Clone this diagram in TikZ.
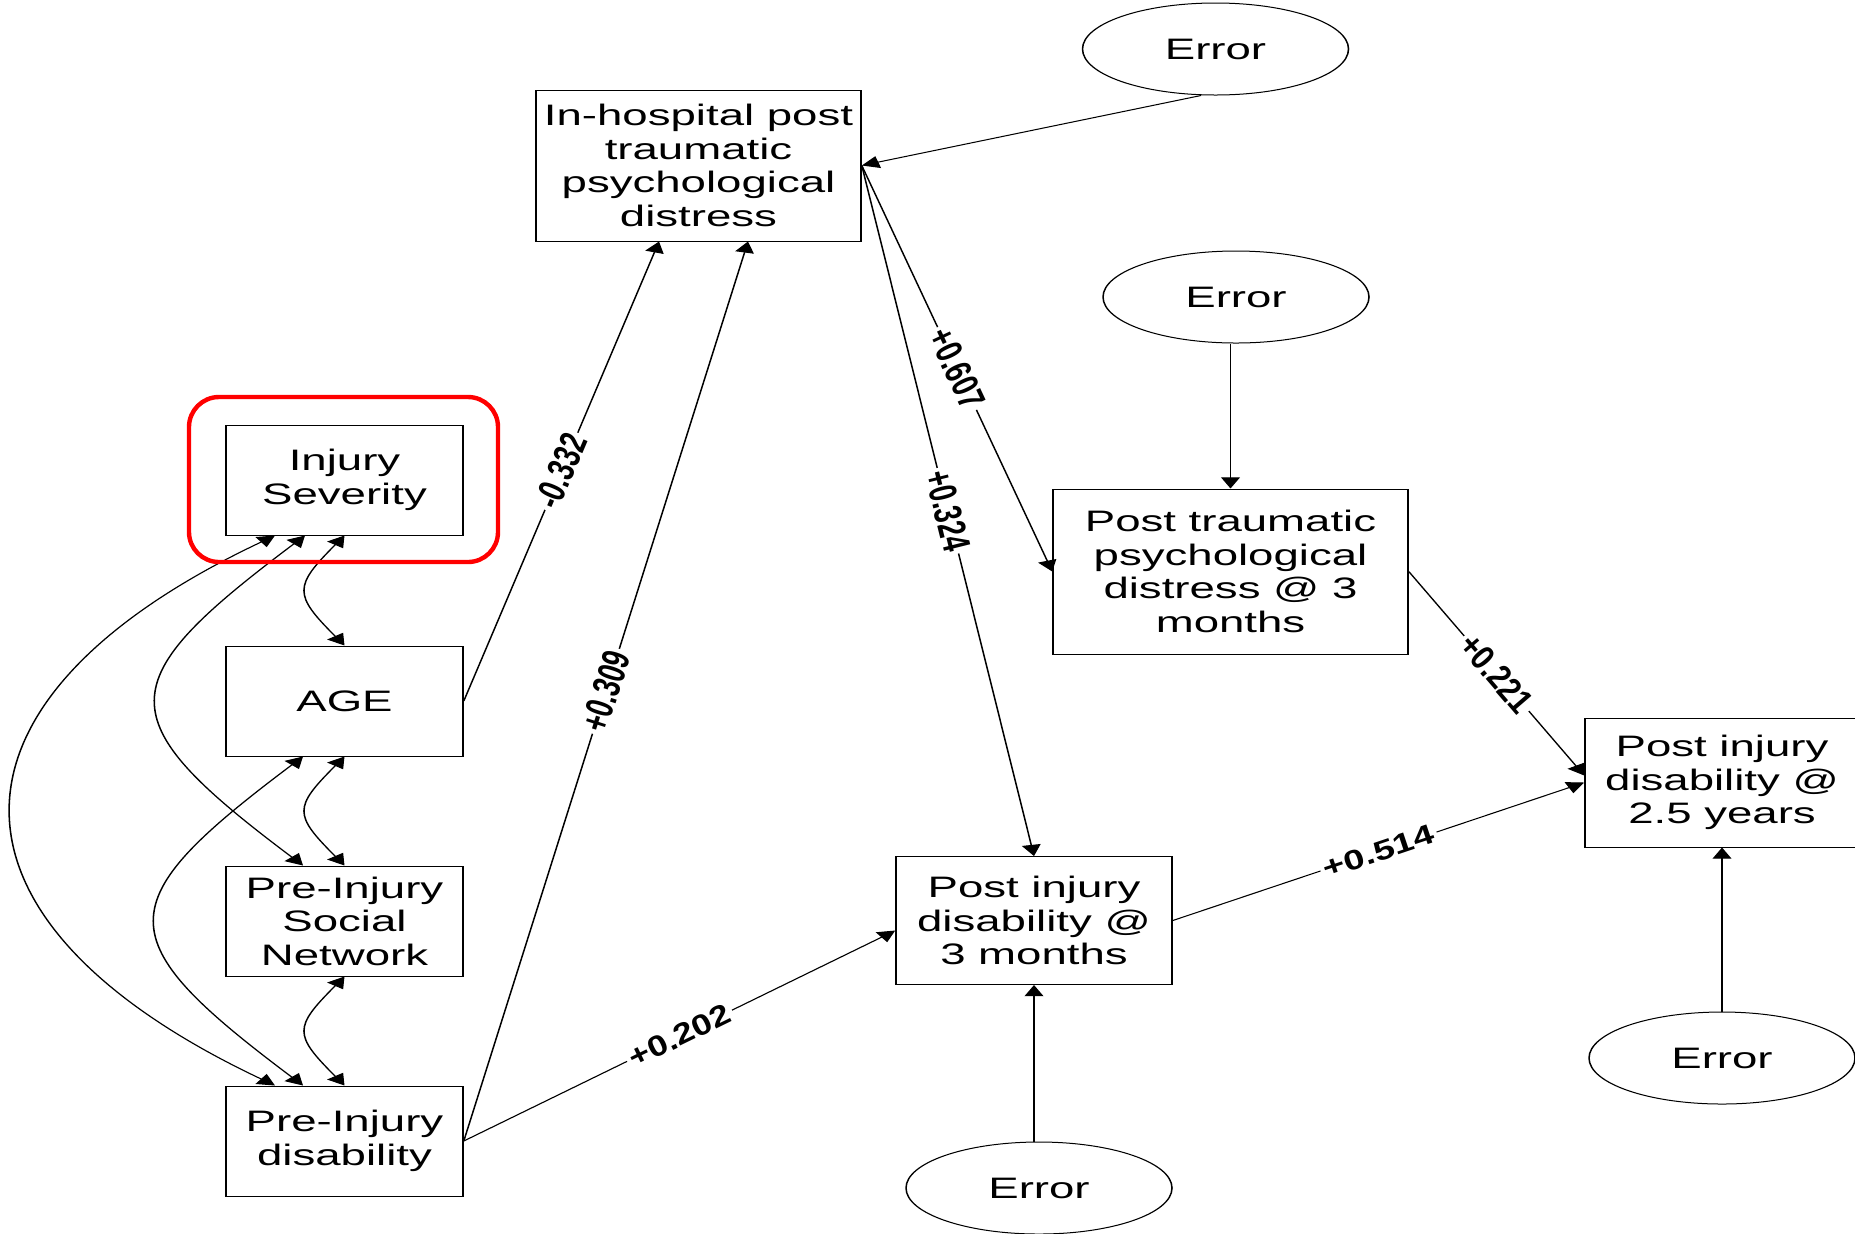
\documentclass[tikz,border=0pt]{standalone}
\usepackage{fontspec}
\usepackage{graphicx}
\setmainfont{Liberation Sans}
\usetikzlibrary{arrows.meta,shapes.geometric}
\newdimen\elax \newdimen\elay \newdimen\elbx \newdimen\elby
\newcommand\edgelab[4]{%
 \pgfextractx{\elax}{\pgfpointanchor{#2}{center}}\pgfextracty{\elay}{\pgfpointanchor{#2}{center}}%
 \pgfextractx{\elbx}{\pgfpointanchor{#3}{center}}\pgfextracty{\elby}{\pgfpointanchor{#3}{center}}%
 \pgfmathsetmacro\elang{atan2(\elby-\elay,1.54*(\elbx-\elax))}%
 \pgfmathsetmacro\elf{veclen(1.54*(\elbx-\elax),\elby-\elay)/veclen(\elbx-\elax,\elby-\elay)}%
 \pgfmathsetmacro\elg{1.54/\elf}%
 \pgfmathsetmacro\elmx{0.77*(\elax+\elbx)}%
 \pgfmathsetmacro\elmy{0.5*(\elay+\elby)}%
 \node[lab, rotate=\elang] (#1) at (\elmx pt,\elmy pt) {\scalebox{\elf}[\elg]{#4}};}
\tikzset{
 box/.style={draw, line width=0.5pt, rectangle, align=center, inner sep=0pt, font=\fontsize{14.8}{16.7}\selectfont},
 err/.style={draw, line width=0.5pt, ellipse, minimum width=86.36pt, minimum height=46pt, inner sep=0pt, font=\fontsize{14.8}{16.7}\selectfont},
 conn/.style={line width=0.5pt, -{Triangle[length=5.6pt,width=6.1pt]}},
 cov/.style={line width=0.5pt, {Triangle[length=5.6pt,width=6.1pt]}-{Triangle[length=5.6pt,width=6.1pt]}},
 lab/.style={fill=white, inner sep=1.6pt, font=\bfseries\fontsize{13}{13}\selectfont},
 hl/.style={draw=red, line width=2.2pt, rounded corners=15pt, minimum width=154.5pt, minimum height=82.5pt, inner sep=0pt}
}
\begin{document}
\begin{tikzpicture}[x=0.5pt,y=-0.5pt]
\fill[white] (0,0) rectangle (1855,1233);
\useasboundingbox (0,0) rectangle (1855,1233);
\begin{scope}[transform canvas={xscale=1.54}, x=0.324675pt, y=-0.5pt]
 \node[box, minimum width=76.95pt, minimum height=55pt] (inj) at (344.5,480) {Injury\\Severity};
 \node[box, minimum width=76.95pt, minimum height=55pt] (age) at (344.5,701) {AGE};
 \node[box, minimum width=76.95pt, minimum height=55pt] (sn) at (344.5,921) {Pre-Injury\\Social\\Network};
 \node[box, minimum width=76.95pt, minimum height=55pt] (pd) at (344.5,1141) {Pre-Injury\\disability};
 \node[box, minimum width=105.52pt, minimum height=75.5pt] (inhosp) at (698.5,165.5) {In-hospital post\\traumatic\\psychological\\distress};
 \node[box, minimum width=115.26pt, minimum height=82.5pt] (pt3) at (1230.5,571.5) {Post traumatic\\psychological\\distress @ 3\\months};
 \node[box, minimum width=89.61pt, minimum height=64pt] (pi3) at (1034,920.5) {Post injury\\disability @\\3 months};
 \node[box, minimum width=88.96pt, minimum height=64.5pt] (pi25) at (1722,782.5) {Post injury\\disability @\\2.5 years};
 \node[err] (e1) at (1215.5,49) {Error};
 \node[err] (e2) at (1236,297) {Error};
 \node[err] (e3) at (1039,1188) {Error};
 \node[err] (e4) at (1722,1058) {Error};

 \coordinate (e1out) at ([xshift=-4.71pt]e1.south);
 \coordinate (ih332) at ([xshift=-12.82pt]inhosp.south);
 \coordinate (ih309) at ([xshift=16.07pt]inhosp.south);
 \coordinate (pi3in) at ([yshift=-5pt]pi3.west);
 \coordinate (pi25in) at ([yshift=3.5pt]pi25.west);

 \draw[conn] (e1out) -- (inhosp.east);
 \draw[conn] (inhosp.east) -- (pt3.west);
 \draw[conn] (inhosp.east) -- (pi3.north);
 \draw[conn] (age.east) -- (ih332);
 \draw[conn] (pd.east) -- (ih309);
 \draw[conn] (pd.east) -- (pi3in);
 \draw[conn] (pi3.east) -- (pi25.west);
 \draw[conn] (pt3.east) -- (pi25in);
 \draw[conn] (e2.south -| pt3.north) -- (pt3.north);
 \draw[conn] (e3.north -| pi3.south) -- (pi3.south);
 \draw[conn] (e4.north -| pi25.south) -- (pi25.south);

 \coordinate (ihE) at (inhosp.east);
 \coordinate (pt3W) at (pt3.west);
 \coordinate (pt3E) at (pt3.east);
 \coordinate (pi3N) at (pi3.north);
 \coordinate (pi3E) at (pi3.east);
 \coordinate (pi25W) at (pi25.west);
 \coordinate (ageE) at (age.east);
 \coordinate (pdE) at (pd.east);

 \draw[cov] (inj.south) .. controls +(-51,51) and +(-51,-51) .. (age.north);
 \draw[cov] (age.south) .. controls +(-51,51) and +(-51,-51) .. (sn.north);
 \draw[cov] (sn.south) .. controls +(-51,51) and +(-51,-51) .. (pd.north);
 \draw[cov] ([xshift=-12.82pt]inj.south) .. controls +(-196,147) and +(-196,-147) .. ([xshift=-13.47pt]sn.north);
 \draw[cov] ([xshift=-22.56pt]inj.south) .. controls +(-350,165) and +(-350,-165) .. ([xshift=-22.56pt]pd.north);
 \draw[cov] ([xshift=-13.47pt]age.south) .. controls +(-196,147) and +(-196,-147) .. ([xshift=-13.47pt]pd.north);
\end{scope}
\edgelab{l607}{ihE}{pt3W}{+0.607}
\edgelab{l324}{ihE}{pi3N}{+0.324}
\edgelab{l332}{ageE}{ih332}{-0.332}
\edgelab{l309}{pdE}{ih309}{+0.309}
\edgelab{l202}{pdE}{pi3in}{+0.202}
\edgelab{l514}{pi3E}{pi25W}{+0.514}
\edgelab{l221}{pt3E}{pi25in}{+0.221}
\node[hl] (hl) at (343.5,479.5) {};
\end{tikzpicture}
\end{document}
